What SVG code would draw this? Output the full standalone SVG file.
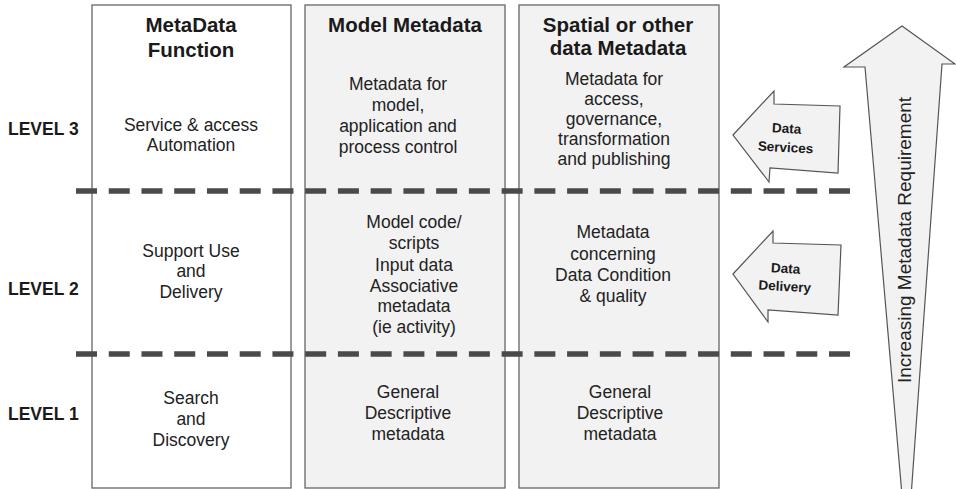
<svg xmlns="http://www.w3.org/2000/svg" width="956" height="489" viewBox="0 0 956 489">
<style>
  .col { stroke: #666; stroke-width: 1.3; }
  .white { fill: #ffffff; }
  .grey { fill: #f2f2f2; }
  .hdr { font-family: "Liberation Sans", Arial, sans-serif; font-weight: bold; font-size: 20.5px; fill: #1a1a1a; text-anchor: middle; }
  .body { font-family: "Liberation Sans", Arial, sans-serif; font-size: 17.5px; fill: #222; text-anchor: middle; }
  .lvl { font-family: "Liberation Sans", Arial, sans-serif; font-weight: bold; font-size: 17.5px; fill: #1a1a1a; }
  .dash { stroke: #4a4a4a; stroke-width: 5.5; stroke-dasharray: 21 11.74; fill: none; }
  .arrow { fill: #f2f2f2; stroke: #555; stroke-width: 1.2; stroke-linejoin: miter; }
  .atxt { font-family: "Liberation Sans", Arial, sans-serif; font-weight: bold; font-size: 13.5px; fill: #1a1a1a; text-anchor: middle; }
  .vtxt { font-family: "Liberation Sans", Arial, sans-serif; font-size: 19px; fill: #222; text-anchor: middle; }
</style>

<g id="col-function">
  <rect class="col white" x="92" y="5" width="199" height="483"/>
  <text class="hdr" x="191" y="32">MetaData</text>
  <text class="hdr" x="191" y="57">Function</text>
  <text class="body" x="191" y="131">Service &amp; access</text>
  <text class="body" x="191" y="151">Automation</text>
  <text class="body" x="191" y="257">Support Use</text>
  <text class="body" x="191" y="277">and</text>
  <text class="body" x="191" y="298">Delivery</text>
  <text class="body" x="191" y="404">Search</text>
  <text class="body" x="191" y="425">and</text>
  <text class="body" x="191" y="446">Discovery</text>
</g>

<g id="col-model">
  <rect class="col grey" x="305" y="5" width="200" height="483"/>
  <text class="hdr" x="405" y="32">Model Metadata</text>
  <text class="body" x="398" y="90">Metadata for</text>
  <text class="body" x="398" y="111">model,</text>
  <text class="body" x="398" y="132">application and</text>
  <text class="body" x="398" y="153">process control</text>
  <text class="body" x="414" y="228">Model code/</text>
  <text class="body" x="414" y="249">scripts</text>
  <text class="body" x="414" y="271">Input data</text>
  <text class="body" x="414" y="292">Associative</text>
  <text class="body" x="414" y="312">metadata</text>
  <text class="body" x="414" y="333">(ie activity)</text>
  <text class="body" x="408" y="398">General</text>
  <text class="body" x="408" y="419">Descriptive</text>
  <text class="body" x="408" y="440">metadata</text>
</g>

<g id="col-spatial">
  <rect class="col grey" x="519" y="5" width="200" height="483"/>
  <text class="hdr" x="618" y="32">Spatial or other</text>
  <text class="hdr" x="618" y="55">data Metadata</text>
  <text class="body" x="614" y="85">Metadata for</text>
  <text class="body" x="614" y="105">access,</text>
  <text class="body" x="614" y="125">governance,</text>
  <text class="body" x="614" y="145">transformation</text>
  <text class="body" x="614" y="165">and publishing</text>
  <text class="body" x="613" y="238">Metadata</text>
  <text class="body" x="613" y="260">concerning</text>
  <text class="body" x="613" y="281">Data Condition</text>
  <text class="body" x="613" y="302">&amp; quality</text>
  <text class="body" x="620" y="398">General</text>
  <text class="body" x="620" y="419">Descriptive</text>
  <text class="body" x="620" y="440">metadata</text>
</g>

<g id="levels">
  <text class="lvl" x="8" y="135">LEVEL 3</text>
  <text class="lvl" x="8" y="295">LEVEL 2</text>
  <text class="lvl" x="8" y="420">LEVEL 1</text>
</g>

<g id="connectors">
  <line class="dash" x1="76" y1="191" x2="850" y2="191"/>
  <line class="dash" x1="76" y1="354" x2="850" y2="354"/>
</g>

<g id="data-services">
  <polygon class="arrow" points="733,135 774,91 774,104 840,106 838,173 770,168 769,182"/>
  <text class="atxt" x="786" y="133" transform="rotate(3 786 140)">Data</text>
  <text class="atxt" x="786" y="152" transform="rotate(3 786 140)">Services</text>
</g>

<g id="data-delivery">
  <polygon class="arrow" points="733,274 773,231 773,243 841,245 838,315 768,310 768,322"/>
  <text class="atxt" x="785" y="273" transform="rotate(3 785 280)">Data</text>
  <text class="atxt" x="785" y="291" transform="rotate(3 785 280)">Delivery</text>
</g>

<g id="increasing-arrow">
  <polygon class="arrow" points="902,26 955,64 942,64 907,553 865,67 844,67"/>
  <text class="vtxt" transform="translate(911 240) rotate(-90)">Increasing Metadata Requirement</text>
</g>
</svg>
